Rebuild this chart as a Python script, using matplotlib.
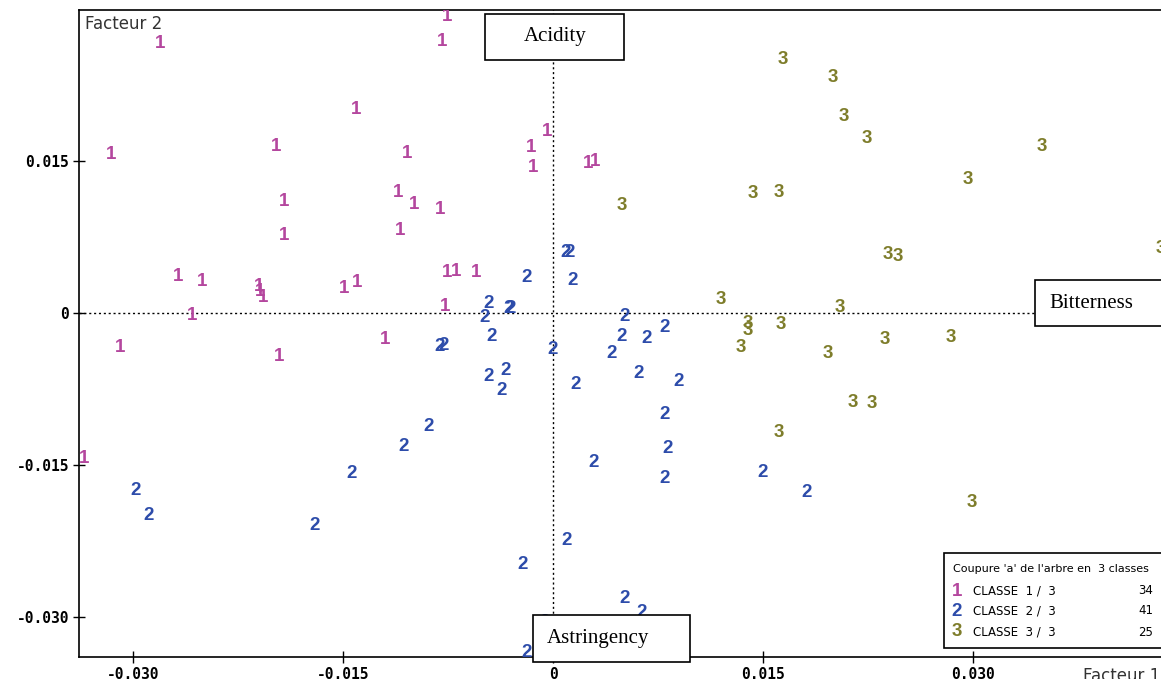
import matplotlib
matplotlib.use('Agg')
import matplotlib.pyplot as plt
from matplotlib.patches import Rectangle

# ---------------- data (Facteur 1, Facteur 2) ----------------
classe1_x = [-0.0076, -0.0079, -0.0281, -0.0141, -0.0316, -0.0198, -0.0104, -0.0004,
             -0.0016, -0.0014, 0.0025, 0.0030, -0.0111, -0.0099, -0.0081, -0.0192,
             -0.0192, -0.0109, -0.0268, -0.0251, -0.0210, -0.0207, -0.0209, -0.0149,
             -0.0140, -0.0076, -0.0069, -0.0055, -0.0077, -0.0258, -0.0309, -0.0120,
             -0.0196, -0.0335]
classe1_y = [0.0293, 0.0268, 0.0266, 0.0201, 0.0157, 0.0164, 0.0158, 0.0179,
             0.0163, 0.0144, 0.0148, 0.0150, 0.0119, 0.0107, 0.0102, 0.0110,
             0.0077, 0.0082, 0.0036, 0.0031, 0.0026, 0.0016, 0.0021, 0.0024,
             0.0030, 0.0040, 0.0041, 0.0040, 0.0007, -0.0002, -0.0034, -0.0026,
             -0.0043, -0.0143]

classe2_x = [0.0009, 0.0012, -0.0019, 0.0014, -0.0046, -0.0049, -0.0032, -0.0030,
             0.0051, -0.0044, -0.0081, -0.0078, 0.0000, 0.0049, 0.0067, 0.0080,
             0.0042, -0.0046, -0.0034, -0.0037, 0.0016, 0.0061, 0.0090, 0.0080,
             0.0082, 0.0080, 0.0029, 0.0150, -0.0089, -0.0107, 0.0010, -0.0022,
             0.0051, 0.0063, -0.0006, -0.0019, -0.0298, -0.0289, -0.0144, -0.0170,
             0.0181]
classe2_y = [0.0060, 0.0060, 0.0035, 0.0032, 0.0010, -0.0004, 0.0005, 0.0005,
             -0.0003, -0.0023, -0.0033, -0.0032, -0.0036, -0.0023, -0.0025, -0.0014,
             -0.0040, -0.0062, -0.0056, -0.0076, -0.0070, -0.0059, -0.0067, -0.0100,
             -0.0133, -0.0163, -0.0147, -0.0157, -0.0112, -0.0131, -0.0224, -0.0248,
             -0.0281, -0.0295, -0.0305, -0.0335, -0.0175, -0.0199, -0.0158, -0.0209,
             -0.0177]

classe3_x = [0.0164, 0.0200, 0.0208, 0.0224, 0.0349, 0.0296, 0.0161, 0.0143,
             0.0049, 0.0239, 0.0246, 0.0434, 0.0120, 0.0205, 0.0139, 0.0139,
             0.0163, 0.0134, 0.0196, 0.0237, 0.0284, 0.0214, 0.0228, 0.0161,
             0.0299]
classe3_y = [0.0250, 0.0233, 0.0194, 0.0172, 0.0164, 0.0132, 0.0119, 0.0118,
             0.0106, 0.0058, 0.0056, 0.0064, 0.0014, 0.0006, -0.0010, -0.0017,
             -0.0011, -0.0034, -0.0040, -0.0026, -0.0024, -0.0088, -0.0089, -0.0118,
             -0.0187]

class_labels = ['1', '2', '3']
class_names = ['CLASSE  1 /  3', 'CLASSE  2 /  3', 'CLASSE  3 /  3']
class_counts = [34, 41, 25]
class_colors = ['#B4479E', '#2D4CAA', '#7E7D2B']

xticks = [-0.030, -0.015, 0.0, 0.015, 0.030]
xtick_labels = ['-0.030', '-0.015', '0', '0.015', '0.030']
yticks = [0.015, 0.0, -0.015, -0.030]
ytick_labels = ['0.015', '0', '-0.015', '-0.030']

# ---------------- figure ----------------
W, H = 1161, 679
fig = plt.figure(figsize=(W / 100, H / 100), dpi=100)
fig.patch.set_facecolor('white')


def fx(px):
    return px / W


def fy(py):
    return (H - py) / H


ax = fig.add_axes([fx(79), fy(657.3), fx(1161) - fx(79), fy(10) - fy(657.3)])
ax.set_xlim(-0.03386, 0.04343)
ax.set_ylim(-0.03393, 0.02991)
for s in ['left', 'bottom', 'top']:
    ax.spines[s].set_linewidth(1.2)
    ax.spines[s].set_color('black')
ax.spines['right'].set_visible(False)

ax.axvline(0, color='black', lw=1.0, ls=(0, (1.5, 2)), zorder=1)
ax.axhline(0, color='black', lw=1.0, ls=(0, (1.5, 2)), zorder=1)

ax.set_xticks(xticks)
ax.set_xticklabels(xtick_labels, fontfamily='DejaVu Sans Mono', fontweight='bold', fontsize=10.5)
ax.set_yticks(yticks)
ax.set_yticklabels(ytick_labels, fontfamily='DejaVu Sans Mono', fontweight='bold', fontsize=10.5)
ax.tick_params(direction='inout', length=8, width=1.0, pad=3)

series = [(classe1_x, classe1_y), (classe2_x, classe2_y), (classe3_x, classe3_y)]
for (xs, ys), lab, col in zip(series, class_labels, class_colors):
    for x, y in zip(xs, ys):
        ax.text(x, y, lab, color=col, ha='center', va='center', fontsize=13.5,
                fontfamily='Liberation Sans', fontweight='bold',
                clip_on=True, zorder=3)

ax.text(0.006, 0.992, 'Facteur 2', transform=ax.transAxes, ha='left', va='top',
        fontsize=12, color='#333333')
fig.text(fx(1083), fy(676), 'Facteur 1', ha='left', va='center', fontsize=12,
         color='#333333')


def boxed(x0, y0, x1, y1, label, tx, ha='center'):
    r = Rectangle((fx(x0), fy(y1)), fx(x1) - fx(x0), fy(y0) - fy(y1),
                  transform=fig.transFigure, facecolor='white', edgecolor='black',
                  lw=1.2, zorder=5)
    fig.patches.append(r)
    fig.text(fx(tx), fy((y0 + y1) / 2), label, ha=ha, va='center',
             fontfamily='Liberation Serif', fontsize=15, color='black', zorder=6)


boxed(485, 14, 624, 60, 'Acidity', 555)
boxed(1035, 280, 1165, 326, 'Bitterness', 1049, ha='left')
boxed(533, 615, 690, 662, 'Astringency', 547, ha='left')

# legend box
leg = Rectangle((fx(944), fy(648)), fx(1163) - fx(944), fy(553) - fy(648),
                transform=fig.transFigure, facecolor='white', edgecolor='black',
                lw=1.2, zorder=5)
fig.patches.append(leg)
fig.text(fx(953), fy(569), "Coupure 'a' de l'arbre en  3 classes", ha='left',
         va='center', fontsize=8, color='black', zorder=6)
row_y = [591, 611, 632]
for ry, lab, name, cnt, col in zip(row_y, class_labels, class_names, class_counts, class_colors):
    fig.text(fx(957), fy(ry), lab, ha='center', va='center', fontsize=13.5,
             fontfamily='Liberation Sans', fontweight='bold', color=col, zorder=6)
    fig.text(fx(973), fy(ry), name, ha='left', va='center', fontsize=8.5, color='black', zorder=6)
    fig.text(fx(1153), fy(ry), str(cnt), ha='right', va='center', fontsize=8.5,
             color='black', zorder=6)

fig.savefig('out.png', dpi=100)
